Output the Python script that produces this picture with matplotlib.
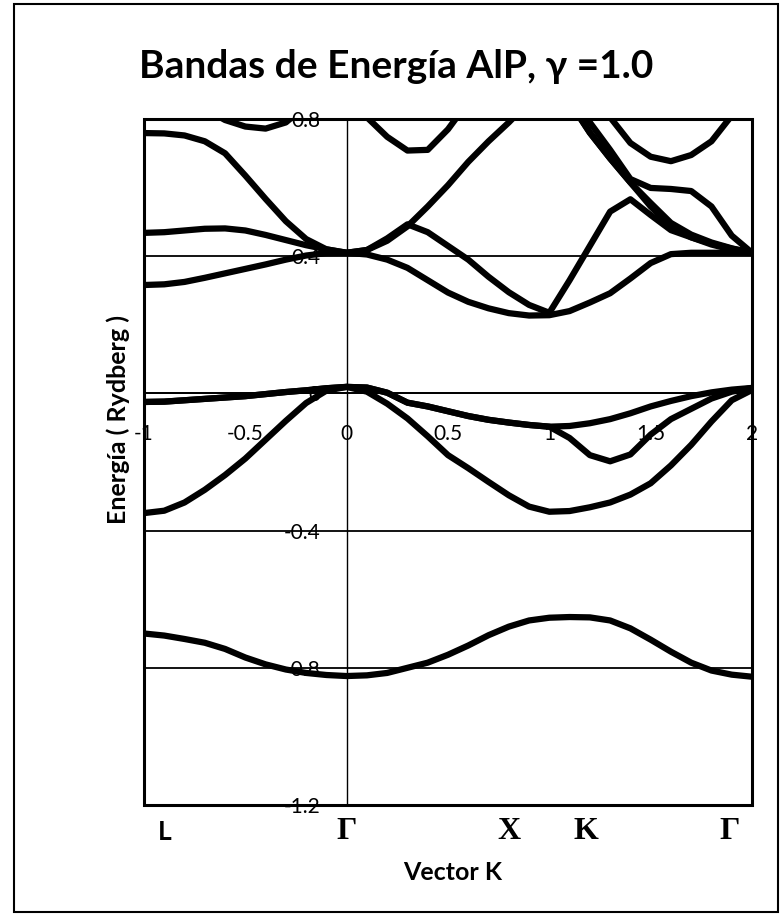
import numpy as np
import matplotlib
matplotlib.use("Agg")
import matplotlib.pyplot as plt
from matplotlib.patches import Rectangle
import matplotlib.transforms as mtransforms

# Datos: k de -1 a 2 cada 0.1
k = np.round(np.arange(-1.0, 2.01, 0.1), 2)
nan = np.nan

banda_v0 = [-0.700, -0.706, -0.716, -0.727, -0.745, -0.770, -0.790, -0.805, -0.815, -0.821,
            -0.824, -0.822, -0.815, -0.800, -0.785, -0.762, -0.735, -0.705, -0.680, -0.662,
            -0.654, -0.652, -0.653, -0.662, -0.685, -0.718, -0.753, -0.785, -0.808, -0.820, -0.826]
banda_v1 = [-0.349, -0.342, -0.318, -0.281, -0.238, -0.190, -0.135, -0.080, -0.028, 0.008,
            0.019, 0.005, -0.030, -0.073, -0.125, -0.180, -0.218, -0.258, -0.297, -0.330,
            -0.345, -0.343, -0.332, -0.318, -0.295, -0.262, -0.210, -0.150, -0.082, -0.020, 0.010]
banda_v2 = [-0.025, -0.024, -0.020, -0.016, -0.012, -0.008, -0.002, 0.004, 0.009, 0.015,
            0.019, 0.017, 0.002, -0.027, -0.038, -0.052, -0.066, -0.077, -0.085, -0.092,
            -0.097, -0.095, -0.087, -0.075, -0.058, -0.038, -0.022, -0.008, 0.003, 0.011, 0.016]
banda_v3 = [-0.025, -0.024, -0.020, -0.016, -0.012, -0.008, -0.002, 0.004, 0.009, 0.015,
            0.019, 0.017, 0.002, -0.027, -0.038, -0.052, -0.066, -0.077, -0.085, -0.092,
            -0.097, -0.130, -0.180, -0.198, -0.178, -0.120, -0.075, -0.045, -0.015, 0.005, 0.016]

banda_c1 = [0.316, 0.318, 0.325, 0.337, 0.350, 0.363, 0.376, 0.390, 0.402, 0.409,
            0.410, 0.405, 0.390, 0.366, 0.330, 0.294, 0.267, 0.248, 0.234, 0.227,
            0.228, 0.240, 0.265, 0.292, 0.335, 0.380, 0.406, 0.410, 0.410, 0.410, 0.410]
banda_c2 = [0.468, 0.470, 0.475, 0.480, 0.481, 0.475, 0.462, 0.447, 0.432, 0.420,
            0.410, 0.418, 0.452, 0.493, 0.470, 0.430, 0.390, 0.340, 0.295, 0.258,
            0.235, 0.330, 0.430, 0.530, 0.566, 0.520, 0.476, 0.455, 0.437, 0.422, 0.410]
banda_c3 = [0.759, 0.758, 0.752, 0.735, 0.700, 0.635, 0.567, 0.502, 0.450, 0.420,
            0.410, 0.418, 0.445, 0.487, 0.545, 0.607, 0.675, 0.735, 0.790, 0.850,
            nan, 0.870, 0.790, 0.710, 0.625, 0.599, 0.596, 0.590, 0.545, 0.460, 0.410]
banda_c4 = [nan, nan, 0.880, 0.830, 0.797, 0.778, 0.772, 0.790, 0.840, nan,
            0.860, 0.805, 0.748, 0.708, 0.710, 0.770, 0.850, nan, nan, nan,
            nan, 0.850, 0.760, 0.685, 0.615, 0.555, 0.497, 0.463, 0.440, 0.423, 0.410]
banda_c5 = [nan, nan, nan, nan, nan, nan, nan, nan, nan, nan,
            nan, nan, nan, nan, nan, nan, nan, nan, nan, nan,
            nan, 0.850, 0.760, 0.685, 0.615, 0.545, 0.487, 0.455, 0.434, 0.419, 0.410]
banda_c6 = [nan, nan, nan, nan, nan, nan, nan, nan, nan, nan,
            nan, nan, nan, nan, nan, nan, nan, nan, nan, nan,
            nan, nan, 0.880, 0.805, 0.730, 0.690, 0.677, 0.695, 0.735, 0.810, 0.870]

bandas = [banda_v0, banda_v1, banda_v2, banda_v3,
          banda_c1, banda_c2, banda_c3, banda_c4, banda_c5, banda_c6]

x_ticks = [-1, -0.5, 0, 0.5, 1, 1.5, 2]
x_tick_labels = ['-1', '-0.5', '0', '0.5', '1', '1.5', '2']
y_ticks = [-1.2, -0.8, -0.4, 0, 0.4, 0.8]
y_tick_labels = ['-1.2', '-0.8', '-0.4', '0', '0.4', '0.8']

puntos = ['L', 'Γ', 'X', 'K', 'Γ']
puntos_k = [-0.90, 0.0, 0.80, 1.18, 1.89]

fig = plt.figure(figsize=(7.84, 9.15), dpi=100)
ax = fig.add_axes([144 / 784, 1 - 805 / 915, 608 / 784, 686 / 915])

for b in bandas:
    ax.plot(k, b, color='black', lw=4.5, solid_joinstyle='round', solid_capstyle='round')

ax.set_xlim(-1, 2)
ax.set_ylim(-1.2, 0.8)

# lineas horizontales
for y in y_ticks:
    ax.axhline(y, color='black', lw=1.3, zorder=0)

ax.spines['left'].set_position(('data', 0))
ax.spines['bottom'].set_position(('data', 0))
ax.spines['left'].set_linewidth(1.0)
ax.spines['bottom'].set_linewidth(1.3)
ax.spines['top'].set_visible(False)
ax.spines['right'].set_visible(False)
ax.add_patch(Rectangle((0, 0), 1, 1, transform=ax.transAxes, fill=False,
                       lw=2.2, edgecolor='black', clip_on=False, zorder=5))

ax.set_xticks(x_ticks)
ax.set_xticklabels(x_tick_labels)
ax.set_yticks(y_ticks)
ax.set_yticklabels(y_tick_labels)
ax.tick_params(axis='both', length=0, labelsize=15)
ax.tick_params(axis='x', pad=22)
ax.tick_params(axis='y', pad=19)
for lab in ax.get_xticklabels() + ax.get_yticklabels():
    lab.set_family('Lato')
    lab.set_zorder(6)

trans = mtransforms.blended_transform_factory(ax.transData, ax.transAxes)
for nombre, pos in zip(puntos, puntos_k):
    if nombre == 'L':
        ax.text(pos, -0.039, nombre, transform=trans, ha='center', va='center',
                fontsize=19, fontweight='bold', family='Lato')
    else:
        ax.text(pos, -0.039, nombre, transform=trans, ha='center', va='center',
                fontsize=23, fontweight='bold', family='Liberation Serif')

fig.text(396 / 784, 1 - 78 / 915, 'Bandas de Energía AlP, γ =1.0', ha='center',
         va='baseline', fontsize=28, fontweight='bold', family=['Lato', 'DejaVu Sans'])
fig.text(453 / 784, 1 - 872 / 915, 'Vector K', ha='center', va='center',
         fontsize=18, fontweight='bold', family='Lato')
fig.text(118 / 784, 1 - 420 / 915, 'Energía ( Rydberg )', ha='center', va='center',
         rotation=90, fontsize=18, fontweight='bold', family='Lato')

# marco exterior
fig.add_artist(Rectangle((14 / 784, 1 - 912 / 915), 764 / 784, 908 / 915,
                         transform=fig.transFigure, fill=False, lw=1.5, edgecolor='black'))

fig.savefig('out.png', dpi=100)
